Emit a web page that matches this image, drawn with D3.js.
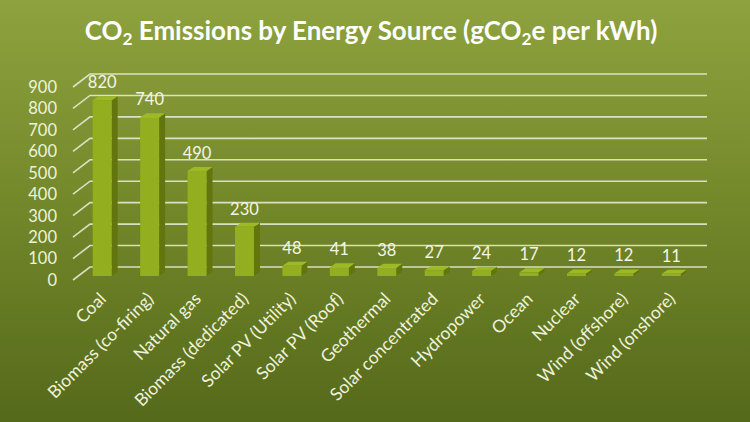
<!DOCTYPE html>
<html>
<head>
<meta charset="utf-8">
<script src="https://cdn.jsdelivr.net/npm/d3@7"></script>
<style>
  html, body { margin: 0; padding: 0; background: #6f8428; }
  svg { display: block; font-family: Lato, "Open Sans", sans-serif; }
</style>
</head>
<body>
<svg id="chart"></svg>
<script>
const categories = ['Coal', 'Biomass (co-firing)', 'Natural gas', 'Biomass (dedicated)',
  'Solar PV (Utility)', 'Solar PV (Roof)', 'Geothermal', 'Solar concentrated',
  'Hydropower', 'Ocean', 'Nuclear', 'Wind (offshore)', 'Wind (onshore)'];
const values = [820, 740, 490, 230, 48, 41, 38, 27, 24, 17, 12, 12, 11];
const yTicks = [0, 100, 200, 300, 400, 500, 600, 700, 800, 900];

const width = 750, height = 422;
// oblique "3D" offsets: back wall and bar depth
const wall = { dx: 17, dy: -13 };
const barFront = { dx: 5, dy: -4 };
const barDepth = { dx: 6, dy: -4 };

const svg = d3.select('#chart')
  .attr('width', width)
  .attr('height', height);

const defs = svg.append('defs');
const bg = defs.append('linearGradient')
  .attr('id', 'bg').attr('x1', 0).attr('y1', 0).attr('x2', 0).attr('y2', 1);
bg.append('stop').attr('offset', '0%').attr('stop-color', '#8ea23f');
bg.append('stop').attr('offset', '50%').attr('stop-color', '#728729');
bg.append('stop').attr('offset', '100%').attr('stop-color', '#55691b');

svg.append('rect')
  .attr('width', width).attr('height', height)
  .attr('fill', 'url(#bg)');

const x = d3.scaleBand()
  .domain(categories)
  .range([73.5, 690])
  .paddingInner(0.6)
  .paddingOuter(0.3);

const y = d3.scaleLinear()
  .domain([0, 900])
  .range([280, 87]);

// gridlines: side wall diagonal + back wall horizontal
const grid = svg.append('g').attr('class', 'grid');
grid.selectAll('path')
  .data(yTicks)
  .enter().append('path')
  .attr('d', d => `M73,${y(d)}L${73 + wall.dx},${y(d) + wall.dy}H707`)
  .attr('fill', 'none')
  .attr('stroke', '#e4ead2')
  .attr('stroke-width', 1.6)
  .attr('stroke-opacity', 0.9);

// y axis labels
svg.append('g')
  .selectAll('text')
  .data(yTicks)
  .enter().append('text')
  .attr('x', 57)
  .attr('y', d => y(d))
  .attr('dy', '0.36em')
  .attr('text-anchor', 'end')
  .attr('fill', '#eef2dc')
  .attr('font-size', 16.5)
  .text(d => d);

// bars
const bars = svg.append('g').attr('class', 'bars')
  .selectAll('g')
  .data(categories.map((c, i) => ({ c, v: values[i] })))
  .enter().append('g');

const bw = x.bandwidth();
const bx = d => x(d.c) + barFront.dx;
const byTop = d => y(d.v) + barFront.dy;
const byBot = () => y(0) + barFront.dy;

bars.append('path')
  .attr('d', d => `M${bx(d) + bw},${byTop(d)}L${bx(d) + bw + barDepth.dx},${byTop(d) + barDepth.dy}` +
    `L${bx(d) + bw + barDepth.dx},${byBot() + barDepth.dy}L${bx(d) + bw},${byBot()}Z`)
  .attr('fill', '#63760e');

bars.append('path')
  .attr('d', d => `M${bx(d)},${byTop(d)}L${bx(d) + barDepth.dx},${byTop(d) + barDepth.dy}` +
    `L${bx(d) + bw + barDepth.dx},${byTop(d) + barDepth.dy}L${bx(d) + bw},${byTop(d)}Z`)
  .attr('fill', '#9cba26');

bars.append('rect')
  .attr('x', bx)
  .attr('y', byTop)
  .attr('width', bw)
  .attr('height', d => byBot() - byTop(d))
  .attr('fill', '#93ae1e');

// data labels
bars.append('text')
  .attr('x', d => bx(d) + bw / 2)
  .attr('y', d => byTop(d) - 12)
  .attr('text-anchor', 'middle')
  .attr('fill', '#f2f5e6')
  .attr('font-size', 16.5)
  .text(d => d.v);

// category labels
svg.append('g')
  .selectAll('text')
  .data(categories)
  .enter().append('text')
  .attr('transform', d => `translate(${bx({ c: d }) + bw / 2 + 5},${300}) rotate(-45)`)
  .attr('text-anchor', 'end')
  .attr('fill', '#eef2dc')
  .attr('font-size', 17.5)
  .text(d => d);

// title with subscripts
const title = svg.append('text')
  .attr('x', width / 2 - 4)
  .attr('y', 40)
  .attr('text-anchor', 'middle')
  .attr('fill', '#ffffff')
  .attr('font-weight', 'bold')
  .attr('font-size', 24);
title.append('tspan').text('CO');
title.append('tspan').attr('font-size', 16).attr('dy', 5).text('2');
title.append('tspan').attr('dy', -5).text(' Emissions by Energy Source (gCO');
title.append('tspan').attr('font-size', 16).attr('dy', 5).text('2');
title.append('tspan').attr('dy', -5).text('e per kWh)');

// fit title to the reference width
const tw = title.node().getComputedTextLength();
const target = 573;
if (tw > 0) {
  const k = target / tw;
  title.attr('font-size', 24 * k);
  title.selectAll('tspan').filter(function () { return d3.select(this).attr('font-size'); })
    .attr('font-size', 16 * k);
}
</script>
</body>
</html>
